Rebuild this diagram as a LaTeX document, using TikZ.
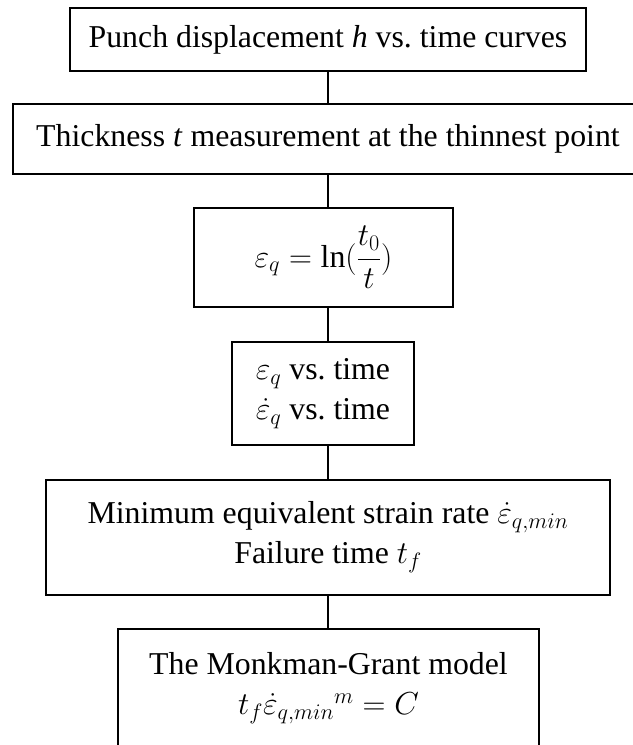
\RequirePackage{fix-cm}
\documentclass[tikz,border=0pt]{standalone}
\usepackage{amsmath}
\usepackage{fontspec}
\setmainfont{Liberation Serif}
\begin{document}
\begin{tikzpicture}[x=1bp,y=-1bp,
  stepbox/.style={draw=black, line width=2.8bp, inner sep=0pt, align=center,
    font=\fontsize{31.8bp}{40bp}\selectfont},
  link/.style={draw=black, line width=1.6bp}]
\useasboundingbox (0,0) rectangle (633,745);
\clip (0,0) rectangle (633,745);

\node[stepbox, minimum width=516bp, minimum height=63bp] (b1) at (328,39.5)
  {Punch displacement \textit{h} vs.\ time curves};
\node[stepbox, minimum width=630bp, minimum height=70bp] (b2) at (328,139)
  {Thickness \textit{t} measurement at the thinnest point};
\node[stepbox, minimum width=259bp, minimum height=99bp] (b3) at (323.5,257.5)
  {$\varepsilon_q = \ln(\dfrac{t_0}{t})$};
\node[stepbox, minimum width=182bp, minimum height=103bp] (b4) at (323,393.5)
  {$\varepsilon_q$ vs.\ time\\ $\dot{\varepsilon}_q$ vs.\ time};
\node[stepbox, minimum width=564bp, minimum height=115bp] (b5) at (328,537.5)
  {Minimum equivalent strain rate $\dot{\varepsilon}_{q,min}$\\ Failure time $t_f$};
\node[stepbox, minimum width=421bp, minimum height=119bp] (b6) at (328.5,688.5)
  {The Monkman-Grant model\\ $t_f\dot{\varepsilon}_{q,min}{}^{m} = C$};

\draw[link] (b1.south -| 328,0) -- (b2.north -| 328,0);
\draw[link] (b2.south -| 328,0) -- (b3.north -| 328,0);
\draw[link] (b3.south -| 328,0) -- (b4.north -| 328,0);
\draw[link] (b4.south -| 328,0) -- (b5.north -| 328,0);
\draw[link] (b5.south -| 328,0) -- (b6.north -| 328,0);
\end{tikzpicture}
\end{document}
